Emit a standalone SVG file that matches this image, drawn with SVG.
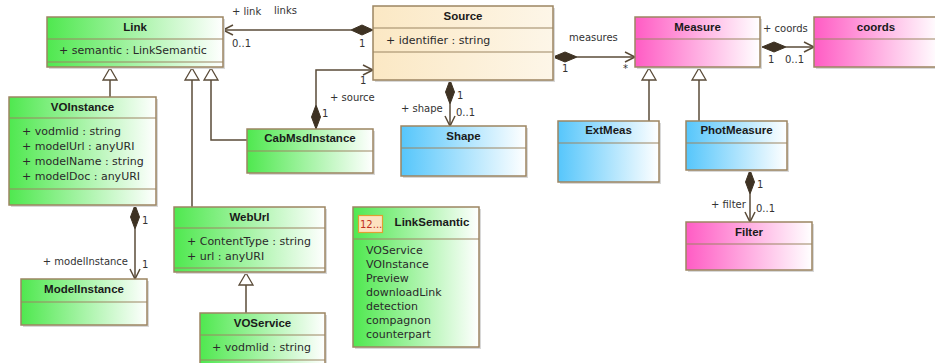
<svg xmlns="http://www.w3.org/2000/svg" width="935" height="363" viewBox="0 0 935 363">
<defs>
<linearGradient id="gGreen" x1="0" y1="0" x2="1" y2="0"><stop offset="0" stop-color="#4fe84f"/><stop offset="1" stop-color="#ffffff"/></linearGradient>
<linearGradient id="gBlue" x1="0" y1="0" x2="1" y2="0"><stop offset="0" stop-color="#56c6fb"/><stop offset="1" stop-color="#ffffff"/></linearGradient>
<linearGradient id="gPink" x1="0" y1="0" x2="1" y2="0"><stop offset="0" stop-color="#ff5cc4"/><stop offset="1" stop-color="#ffffff"/></linearGradient>
<linearGradient id="gBeige" x1="0" y1="0" x2="1" y2="0"><stop offset="0" stop-color="#fbe8c4"/><stop offset="1" stop-color="#fdf6e8"/></linearGradient>
</defs>
<style>
.box{stroke:#9c8562;stroke-width:1.5}
.sh{fill:#d8d8d8}
.div{stroke:#9c8562;stroke-width:1.2}
.t{font-family:"Liberation Sans",Arial,sans-serif;font-size:11.5px;font-weight:bold;fill:#1a1a1a;text-anchor:middle}
.a{font-family:"DejaVu Sans",Verdana,sans-serif;font-size:11px;fill:#2a2a2a}
.l{font-family:"DejaVu Sans",Verdana,sans-serif;font-size:10px;fill:#333}
.c{stroke:#5a4b38;stroke-width:1.5;fill:none}
.dia{fill:#3e3223;stroke:#3e3223;stroke-width:1}
.gen{fill:#ffffff;stroke:#5a4b38;stroke-width:1.3}
</style>

<g id="connectors">
<!-- Source -> Link -->
<line class="c" x1="351" y1="30" x2="223" y2="30"/>
<polygon class="dia" points="373,30 362,25 351,30 362,35"/>
<polyline class="c" points="233,25 223,30 233,35"/>
<text class="l" x="232" y="15">+ link</text>
<text class="l" x="274" y="14">links</text>
<text class="l" x="232" y="47">0..1</text>
<text class="l" x="359" y="47">1</text>
<!-- CabMsdInstance -> Source -->
<polyline class="c" points="316,105 316,70 373,70"/>
<polygon class="dia" points="316,129 311.5,117 316,105 320.5,117"/>
<polyline class="c" points="363,65 373,70 363,75"/>
<text class="l" x="360" y="84">1</text>
<text class="l" x="330" y="101">+ source</text>
<text class="l" x="322" y="117">1</text>
<!-- Source -> Shape -->
<line class="c" x1="450" y1="104" x2="450" y2="126"/>
<polygon class="dia" points="450,80 454.5,92 450,104 445.5,92"/>
<polyline class="c" points="445,116 450,126 455,116"/>
<text class="l" x="457" y="99">1</text>
<text class="l" x="401" y="112">+ shape</text>
<text class="l" x="456" y="116">0..1</text>
<!-- Source -> Measure -->
<line class="c" x1="577" y1="57" x2="635" y2="57"/>
<polygon class="dia" points="553,57 565,52 577,57 565,62"/>
<polyline class="c" points="625,52 635,57 625,62"/>
<text class="l" x="569" y="41">measures</text>
<text class="l" x="562" y="72">1</text>
<text class="l" x="623" y="72">*</text>
<!-- Measure -> coords -->
<line class="c" x1="786" y1="47" x2="814" y2="47"/>
<polygon class="dia" points="762,47 774,42 786,47 774,52"/>
<polyline class="c" points="804,42 814,47 804,52"/>
<text class="l" x="763" y="32">+ coords</text>
<text class="l" x="768" y="63">1</text>
<text class="l" x="785" y="63">0..1</text>
<!-- Measure generalizations -->
<line class="c" x1="649" y1="80" x2="649" y2="121"/>
<polygon class="gen" points="649,68 642,80 656,80"/>
<line class="c" x1="699" y1="80" x2="699" y2="121"/>
<polygon class="gen" points="699,68 692,80 706,80"/>
<!-- PhotMeasure -> Filter -->
<line class="c" x1="750" y1="194" x2="750" y2="222"/>
<polygon class="dia" points="750,170 754.5,182 750,194 745.5,182"/>
<polyline class="c" points="745,212 750,222 755,212"/>
<text class="l" x="757" y="188">1</text>
<text class="l" x="711" y="208">+ filter</text>
<text class="l" x="756" y="212">0..1</text>
<!-- Link generalizations -->
<line class="c" x1="110" y1="80" x2="110" y2="97"/>
<polygon class="gen" points="110,68 103,80 117,80"/>
<line class="c" x1="192" y1="80" x2="192" y2="207"/>
<polygon class="gen" points="192,68 185,80 199,80"/>
<polyline class="c" points="211,80 211,140 247,140"/>
<polygon class="gen" points="211,68 204,80 218,80"/>
<!-- VOInstance -> ModelInstance -->
<line class="c" x1="135" y1="229" x2="135" y2="279"/>
<polygon class="dia" points="135,205 139.5,217 135,229 130.5,217"/>
<polyline class="c" points="130,269 135,279 140,269"/>
<text class="l" x="142" y="224">1</text>
<text class="l" x="128" y="265" text-anchor="end">+ modelInstance</text>
<text class="l" x="142" y="268">1</text>
<!-- WebUrl -> VOService -->
<line class="c" x1="246" y1="285" x2="246" y2="313"/>
<polygon class="gen" points="246,273 239,285 253,285"/>
</g>

<g id="Link">
<rect class="sh" x="49" y="19" width="176" height="50"/>
<rect class="box" x="47" y="17" width="176" height="50" fill="url(#gGreen)"/>
<line class="div" x1="47" y1="39" x2="223" y2="39"/>
<line class="div" x1="47" y1="62" x2="223" y2="62"/>
<text class="t" x="135" y="31">Link</text>
<text class="a" x="59" y="54">+ semantic : LinkSemantic</text>
</g>

<g id="VOInstance">
<rect class="sh" x="11" y="99" width="147" height="108"/>
<rect class="box" x="9" y="97" width="147" height="108" fill="url(#gGreen)"/>
<line class="div" x1="9" y1="118" x2="156" y2="118"/>
<line class="div" x1="9" y1="189" x2="156" y2="189"/>
<text class="t" x="82.5" y="111">VOInstance</text>
<text class="a" x="22" y="135">+ vodmlid : string</text>
<text class="a" x="22" y="150">+ modelUrl : anyURI</text>
<text class="a" x="22" y="165">+ modelName : string</text>
<text class="a" x="22" y="180">+ modelDoc : anyURI</text>
</g>

<g id="CabMsdInstance">
<rect class="sh" x="249" y="131" width="126" height="44"/>
<rect class="box" x="247" y="129" width="126" height="44" fill="url(#gGreen)"/>
<line class="div" x1="247" y1="151" x2="373" y2="151"/>
<text class="t" x="310" y="142">CabMsdInstance</text>
</g>

<g id="Source">
<rect class="sh" x="375" y="8" width="180" height="74"/>
<rect class="box" x="373" y="6" width="180" height="74" fill="url(#gBeige)"/>
<line class="div" x1="373" y1="28" x2="553" y2="28"/>
<line class="div" x1="373" y1="52" x2="553" y2="52"/>
<text class="t" x="463" y="20">Source</text>
<text class="a" x="386" y="44">+ identifier : string</text>
</g>

<g id="Shape">
<rect class="sh" x="403" y="128" width="125" height="50"/>
<rect class="box" x="401" y="126" width="125" height="50" fill="url(#gBlue)"/>
<line class="div" x1="401" y1="148" x2="526" y2="148"/>
<text class="t" x="463.5" y="140">Shape</text>
</g>

<g id="ExtMeas">
<rect class="sh" x="560" y="123" width="101" height="61"/>
<rect class="box" x="558" y="121" width="101" height="61" fill="url(#gBlue)"/>
<line class="div" x1="558" y1="143" x2="659" y2="143"/>
<text class="t" x="608.5" y="134">ExtMeas</text>
</g>

<g id="Measure">
<rect class="sh" x="637" y="19" width="125" height="50"/>
<rect class="box" x="635" y="17" width="125" height="50" fill="url(#gPink)"/>
<line class="div" x1="635" y1="39" x2="760" y2="39"/>
<text class="t" x="697.5" y="31">Measure</text>
</g>

<g id="coords">
<rect class="sh" x="816" y="19" width="125" height="50"/>
<rect class="box" x="814" y="17" width="125" height="50" fill="url(#gPink)"/>
<line class="div" x1="814" y1="39" x2="939" y2="39"/>
<text class="t" x="876" y="31">coords</text>
</g>

<g id="PhotMeasure">
<rect class="sh" x="688" y="123" width="101" height="49"/>
<rect class="box" x="686" y="121" width="101" height="49" fill="url(#gBlue)"/>
<line class="div" x1="686" y1="143" x2="787" y2="143"/>
<text class="t" x="736.5" y="134">PhotMeasure</text>
</g>

<g id="Filter">
<rect class="sh" x="688" y="224" width="126" height="48"/>
<rect class="box" x="686" y="222" width="126" height="48" fill="url(#gPink)"/>
<line class="div" x1="686" y1="244" x2="812" y2="244"/>
<text class="t" x="749" y="236">Filter</text>
</g>

<g id="ModelInstance">
<rect class="sh" x="23" y="281" width="126" height="46"/>
<rect class="box" x="21" y="279" width="126" height="46" fill="url(#gGreen)"/>
<line class="div" x1="21" y1="302" x2="147" y2="302"/>
<text class="t" x="84" y="293">ModelInstance</text>
</g>

<g id="WebUrl">
<rect class="sh" x="176" y="209" width="151" height="65"/>
<rect class="box" x="174" y="207" width="151" height="65" fill="url(#gGreen)"/>
<line class="div" x1="174" y1="228" x2="325" y2="228"/>
<line class="div" x1="174" y1="268" x2="325" y2="268"/>
<text class="t" x="249.5" y="221">WebUrl</text>
<text class="a" x="187" y="245">+ ContentType : string</text>
<text class="a" x="187" y="260">+ url : anyURI</text>
</g>

<g id="VOService">
<rect class="sh" x="202" y="315" width="125" height="55"/>
<rect class="box" x="200" y="313" width="125" height="55" fill="url(#gGreen)"/>
<line class="div" x1="200" y1="335" x2="325" y2="335"/>
<line class="div" x1="200" y1="360" x2="325" y2="360"/>
<text class="t" x="262.5" y="327">VOService</text>
<text class="a" x="212" y="351">+ vodmlid : string</text>
</g>

<g id="LinkSemantic">
<rect class="sh" x="355" y="209" width="126" height="140"/>
<rect class="box" x="353" y="207" width="126" height="140" fill="url(#gGreen)"/>
<line class="div" x1="353" y1="239" x2="479" y2="239"/>
<rect x="358.5" y="215.5" width="24" height="17" fill="#fde2c0" stroke="#e0a030" stroke-width="1.2"/>
<text x="360" y="228" style="font-family:'DejaVu Sans',Verdana,sans-serif;font-size:10px;fill:#c03020">12...</text>
<text class="t" x="432" y="226">LinkSemantic</text>
<text class="a" x="366" y="254">VOService</text>
<text class="a" x="366" y="268">VOInstance</text>
<text class="a" x="366" y="282">Preview</text>
<text class="a" x="366" y="296">downloadLink</text>
<text class="a" x="366" y="310">detection</text>
<text class="a" x="366" y="324">compagnon</text>
<text class="a" x="366" y="338">counterpart</text>
</g>
</svg>
